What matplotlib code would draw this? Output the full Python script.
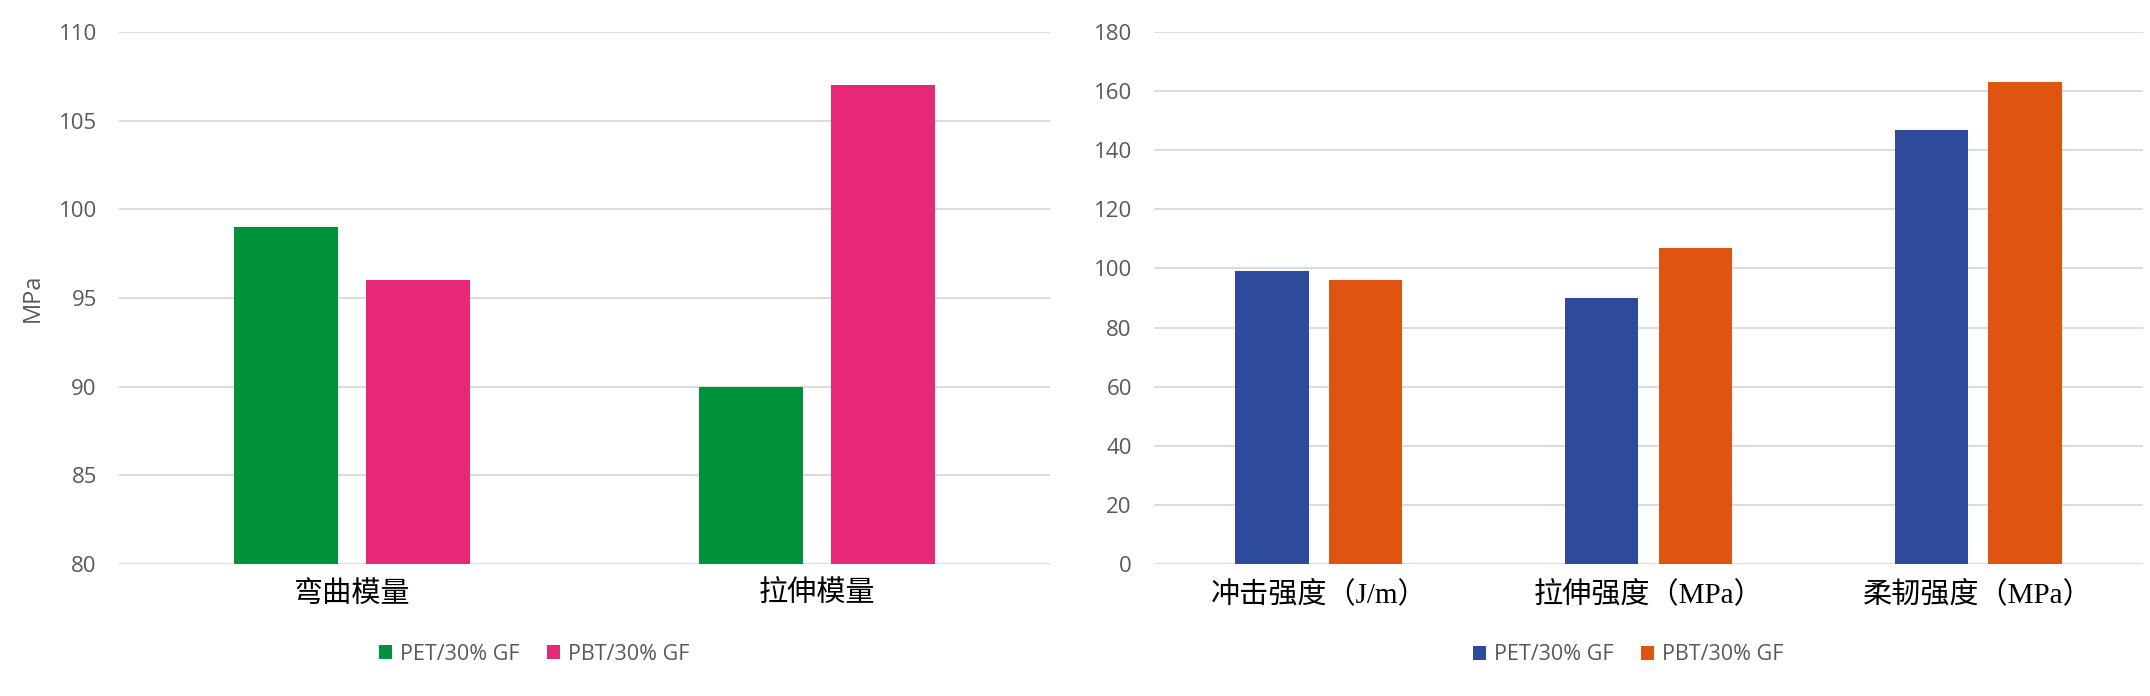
import matplotlib
matplotlib.use("Agg")
import matplotlib.pyplot as plt
import numpy as np
from matplotlib.patches import Patch

# ---- data ----
left_categories = ["弯曲模量", "拉伸模量"]
left_pet = [99, 90]
left_pbt = [96, 107]
left_yticks = [80, 85, 90, 95, 100, 105, 110]
left_ylabel = "MPa"

right_categories = ["冲击强度（J/m）", "拉伸强度（MPa）", "柔韧强度（MPa）"]
right_pet = [99, 90, 147]
right_pbt = [96, 107, 163]
right_yticks = [0, 20, 40, 60, 80, 100, 120, 140, 160, 180]

series_names = ["PET/30% GF", "PBT/30% GF"]

# ---- style ----
W, H = 2150, 696
fig = plt.figure(figsize=(W / 100, H / 100), dpi=100)
tick_font = ["Open Sans", "DejaVu Sans"]
cat_font = ["Liberation Serif", "Noto Sans CJK SC", "DejaVu Sans"]
gray = "#595959"
grid_c = "#D9D9D9"

left_colors = ["#00923A", "#E62876"]
right_colors = ["#2E4A9A", "#E05412"]

bar_w = 0.223
off = 0.142


def style_axes(ax, yticks, cats):
    ax.set_ylim(yticks[0], yticks[-1])
    ax.set_yticks(yticks)
    ax.set_xlim(-0.5, len(cats) - 0.5)
    ax.set_xticks(np.arange(len(cats)))
    ax.set_xticklabels(cats, fontfamily=cat_font, fontsize=21, color="black")
    for lab in ax.get_yticklabels():
        lab.set_fontfamily(tick_font)
        lab.set_fontsize(16)
        lab.set_color(gray)
    ax.tick_params(axis="y", length=0, pad=16)
    ax.tick_params(axis="x", length=0, pad=12)
    for s in ax.spines.values():
        s.set_visible(False)
    ax.yaxis.grid(True, color=grid_c, linewidth=1.3)
    ax.set_axisbelow(True)


# left chart
axL = fig.add_axes([119 / W, 1 - 564 / H, 931 / W, 532 / H])
xL = np.arange(len(left_categories))
axL.bar(xL - off, left_pet, bar_w, bottom=0, color=left_colors[0], zorder=3)
axL.bar(xL + off, left_pbt, bar_w, bottom=0, color=left_colors[1], zorder=3)
style_axes(axL, left_yticks, left_categories)
axL.set_ylabel(left_ylabel, fontfamily=tick_font, fontsize=17, color=gray)
axL.yaxis.label.set_va("center")
axL.yaxis.set_label_coords((33 - 119) / 931, 0.5)

# right chart
axR = fig.add_axes([1154 / W, 1 - 564 / H, 989 / W, 532 / H])
xR = np.arange(len(right_categories))
axR.bar(xR - off, right_pet, bar_w, color=right_colors[0], zorder=3)
axR.bar(xR + off, right_pbt, bar_w, color=right_colors[1], zorder=3)
style_axes(axR, right_yticks, right_categories)


def add_legend(colors, cx, cy):
    handles = [Patch(facecolor=c, edgecolor="none") for c in colors]
    leg = fig.legend(handles, series_names, loc="center",
                     bbox_to_anchor=(cx / W, 1 - cy / H), ncol=2, frameon=False,
                     prop={"family": tick_font, "size": 15.5},
                     handlelength=0.6, handleheight=0.6, handletextpad=0.35,
                     columnspacing=1.3, borderpad=0)
    for t in leg.get_texts():
        t.set_color(gray)


add_legend(left_colors, 534, 654)
add_legend(right_colors, 1628, 655)

fig.savefig("out.png", dpi=100, facecolor="white")
